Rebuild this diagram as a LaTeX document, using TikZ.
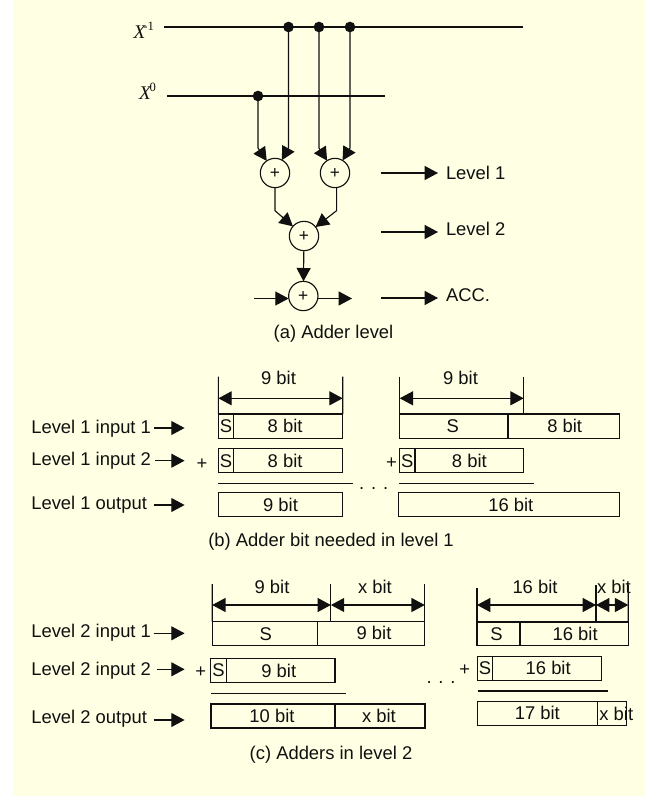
\documentclass[tikz,border=0pt]{standalone}
\usepackage{fontspec}
\setmainfont{Liberation Sans}
\newfontfamily\serfont{Liberation Serif}
\usetikzlibrary{arrows.meta,calc}
\definecolor{paper}{HTML}{FFFFE3}
\definecolor{ink}{HTML}{101010}
\newcommand{\cell}[8]{%
  \pgfmathsetmacro{\cx}{(#2+#4)/2}\pgfmathsetmacro{\cy}{(#3+#5)/2}%
  \pgfmathsetmacro{\cw}{(#4-#2)*0.75}\pgfmathsetmacro{\ch}{(#5-#3)*0.75}%
  \pgfmathsetmacro{\dxx}{(#6)*0.75}\pgfmathsetmacro{\dyy}{(#7)*-0.75}%
  \node[cellbox,minimum width=\cw pt,minimum height=\ch pt] (#1) at (\cx,\cy)
    {\raisebox{\dyy pt}{\makebox[0pt]{\hspace*{\dxx pt}\hspace*{\dxx pt}#8}}};%
}
\tikzset{
  x=0.75pt,y=-0.75pt,
  every node/.style={font=\fontsize{13.8pt}{15pt}\selectfont,text=ink},
  wire/.style={draw=ink,line width=0.85pt},
  arrowwire/.style={wire,-{Triangle[length=10pt,width=10.5pt]}},
  dimwire/.style={wire,{Triangle[length=10pt,width=10.5pt]}-{Triangle[length=10pt,width=10.5pt]}},
  cellbox/.style={draw=ink,line width=0.85pt,rectangle,inner sep=0pt,outer sep=0pt},
  adder/.style={draw=ink,line width=0.85pt,circle,minimum size=22pt,inner sep=0pt,outer sep=0pt,font=\fontsize{13pt}{14pt}\selectfont},
  dotnode/.style={fill=ink,circle,minimum size=8pt,inner sep=0pt,outer sep=0pt},
  lbl/.style={inner sep=0pt,outer sep=0pt,text height=9.9pt,text depth=0pt},
  lblw/.style={lbl,anchor=west},
  xlbl/.style={inner sep=0pt,outer sep=0pt,anchor=base east,font=\fontsize{14.5pt}{15pt}\serfont\itshape},
}
\newcommand{\supr}[1]{\raisebox{5.5pt}{\fontsize{9.5pt}{10pt}\serfont\upshape #1}}
\begin{document}
\begin{tikzpicture}
\useasboundingbox (0,0) rectangle (646,796);
\fill[paper] (13,0) rectangle (646,796);

% --- (a) adder level
\node[xlbl] (xm) at (154,38) {X\kern-1.5pt\supr{-1}};
\node[xlbl] (xz) at (156,99) {X\kern-1pt\supr{0}};
\coordinate (lAs) at (164,27); \coordinate (lAe) at (522.7,27);
\coordinate (lBs) at (167,96); \coordinate (lBe) at (385,96);
\draw[wire] (lAs) -- (lAe);
\draw[wire] (lBs) -- (lBe);
\node[dotnode] (d1) at (288.5,27) {};
\node[dotnode] (d2) at (319,27) {};
\node[dotnode] (d3) at (350,27) {};
\node[dotnode] (d0) at (258,96) {};
\node[adder] (a1) at (275,173) {+};
\node[adder] (a2) at (335,173) {+};
\node[adder] (a3) at (304,236) {+};
\node[adder] (a4) at (303.3,296) {+};
\draw[arrowwire] (d0.center) -- ++(0,52) -- (a1);
\draw[arrowwire] (d1.center) -- ++(0,121) -- (a1);
\draw[arrowwire] (d2.center) -- ++(0,121) -- (a2);
\draw[arrowwire] (d3.center) -- ++(0,121) -- (a2);
\draw[arrowwire] (a1.south) -- ++(0,23) -- (a3);
\draw[arrowwire] ([xshift=1.2pt]a2.south) -- ++(0,23) -- (a3);
\draw[arrowwire] (a3) -- (a4);
\coordinate (inA) at (254,298.5); \coordinate (outA) at (352,298.5);
\draw[arrowwire] (inA) -- (a4.west |- inA);
\draw[arrowwire] (a4.east |- outA) -- (outA);
\node[lblw] (t1) at (446,173) {Level 1};
\node[lblw] (t2) at (446,229) {Level 2};
\node[lblw] (t3) at (446,295) {ACC.};
\coordinate (s1) at (381,173); \coordinate (s2) at (381,232); \coordinate (s3) at (381,298);
\draw[arrowwire] (s1) -- ++(57,0);
\draw[arrowwire] (s2) -- ++(57,0);
\draw[arrowwire] (s3) -- ++(57,0);
\node[lbl] (capA) at (333.5,332) {(a) Adder level};

% --- (b) level 1
\node[lblw] (b1) at (31.3,426.7) {Level 1 input 1};
\node[lblw] (b2) at (31.3,459) {Level 1 input 2};
\node[lblw] (b3) at (31.3,503) {Level 1 output};
\coordinate (b1a) at (153.7,428); \coordinate (b2a) at (155,460.7); \coordinate (b3a) at (153.7,505);
\draw[arrowwire] (b1a) -- (184.6,428);
\draw[arrowwire] (b2a) -- (184.6,460.7);
\draw[arrowwire] (b3a) -- (184.6,505);
\node[lbl] (bp1) at (202,462.7) {+};
\node[lbl] (bp2) at (391.4,462) {+};
\node[lbl] (bdots) at (373.7,483) {. . .};

\cell{b11}{218.4}{414}{233.5}{438.3}{0}{0}{S}
\cell{b12}{233.5}{414}{342.7}{438.3}{-3}{0}{8 bit}
\cell{b21}{218.4}{448.7}{233.5}{472.9}{0}{0.5}{S}
\cell{b22}{233.5}{448.7}{342.7}{472.9}{-3}{0}{8 bit}
\cell{b31}{218.4}{492.7}{342.7}{516.7}{0}{0}{9 bit}
\cell{b41}{399.7}{414}{508}{438.3}{-1}{0}{S}
\cell{b42}{508}{414}{619.3}{438.3}{1}{0}{8 bit}
\cell{b51}{399.5}{448.7}{415}{472.9}{0}{0.5}{S}
\cell{b52}{415}{448.7}{523.7}{472.9}{0}{0}{8 bit}
\cell{b61}{398.4}{492.7}{619.3}{516.7}{2}{0}{16 bit}

\coordinate (bl1) at (218,483.7); \coordinate (bl2) at (353,483.7);
\coordinate (bl3) at (399,483.7); \coordinate (bl4) at (534,483.7);
\draw[wire] (bl1) -- (bl2);
\draw[wire] (bl3) -- (bl4);

\coordinate (bt1) at (218.4,376.7); \coordinate (bt2) at (342.7,376.7);
\coordinate (bt3) at (399.7,376.7); \coordinate (bt4) at (523.7,376.7);
\draw[wire] (bt1) -- (b11.north west);
\draw[wire] (bt2) -- (b12.north east);
\draw[wire] (bt3) -- (b41.north west);
\draw[wire] (bt4) -- (bt4 |- b41.north);
\coordinate (bd1) at (218.4,398.3); \coordinate (bd2) at (342.7,398.3);
\coordinate (bd3) at (399.7,398.3); \coordinate (bd4) at (523.7,398.3);
\draw[dimwire] (bd1) -- (bd2);
\draw[dimwire] (bd3) -- (bd4);
\node[lbl] (bn1) at (278.5,378) {9 bit};
\node[lbl] (bn2) at (460.5,378) {9 bit};
\node[lbl] (capB) at (331,540) {(b) Adder bit needed in level 1};

% --- (c) level 2
\node[lblw] (c1) at (31.3,630.7) {Level 2 input 1};
\node[lblw] (c2) at (31.3,669) {Level 2 input 2};
\node[lblw] (c3) at (31.3,716.7) {Level 2 output};
\coordinate (c1a) at (153.7,633.3); \coordinate (c2a) at (156.6,669.3); \coordinate (c3a) at (153.7,720);
\draw[arrowwire] (c1a) -- (184.6,633.3);
\draw[arrowwire] (c2a) -- (184.6,669.3);
\draw[arrowwire] (c3a) -- (184.6,720);
\node[lbl] (cp1) at (200.7,671) {+};
\node[lbl] (cp2) at (464.8,669) {+};
\node[lbl] (cdots) at (441,676.5) {. . .};

\cell{c11}{212.2}{621.7}{317.3}{645.7}{1}{1.5}{S}
\cell{c12}{317.3}{621.7}{424.8}{645.7}{3}{-1}{9 bit}
\cell{c21}{210.5}{658.3}{226.6}{682.7}{0}{1}{S}
\cell{c22}{226.6}{658.3}{335}{682.7}{-2}{0}{9 bit}
\cell{c31}{211}{704}{335}{728}{-1}{0}{10 bit}
\cell{c32}{335}{704}{425}{728}{-1}{0}{x bit}
\cell{c41}{477}{622}{520}{645.7}{-2}{0.5}{S}
\cell{c42}{520}{622}{628.3}{645.7}{1}{-1}{16 bit}
\cell{c51}{477.3}{656.3}{492.7}{680.3}{0}{1}{S}
\cell{c52}{492.7}{656.3}{601.7}{680.3}{1}{-0.5}{16 bit}
\cell{c61}{477.3}{701.7}{597.3}{725.3}{0}{-2}{17 bit}
\cell{c62}{597.3}{701.7}{626.3}{725.3}{4.5}{1}{x bit}

\coordinate (cl1) at (211,693.3); \coordinate (cl2) at (345.7,693.3);
\coordinate (cl3) at (477.7,691); \coordinate (cl4) at (608,691);
\draw[wire] (cl1) -- (cl2);
\draw[wire] (cl3) -- (cl4);

\coordinate (ct1) at (212.2,584); \coordinate (ct2) at (330.9,584); \coordinate (ct3) at (424.8,584);
\coordinate (ct4) at (477,588); \coordinate (ct5) at (596,585); \coordinate (ct6) at (628.3,585);
\draw[wire] (ct1) -- (c11.north west);
\draw[wire] (ct2) -- (ct2 |- c12.north);
\draw[wire] (ct3) -- (c12.north east);
\draw[wire] (ct4) -- (c41.north west);
\draw[wire] (ct5) -- (ct5 |- c42.north);
\draw[wire] (ct6) -- (c42.north east);
\coordinate (cd1) at (212.2,605); \coordinate (cd2) at (330.9,605); \coordinate (cd3) at (424.8,605);
\coordinate (cd4) at (477,605); \coordinate (cd5) at (596,605); \coordinate (cd6) at (628.3,605);
\draw[dimwire] (cd1) -- (cd2);
\draw[dimwire] (cd2) -- (cd3);
\draw[dimwire] (cd4) -- (cd5);
\draw[dimwire] (cd5) -- (cd6);
\node[lbl] (cn1) at (272,587) {9 bit};
\node[lbl] (cn2) at (375,587) {x bit};
\node[lbl] (cn3) at (535,587) {16 bit};
\node[lbl] (cn4) at (614,587) {x bit};
\node[lbl] (capC) at (331,753) {(c) Adders in level 2};
\end{tikzpicture}
\end{document}
